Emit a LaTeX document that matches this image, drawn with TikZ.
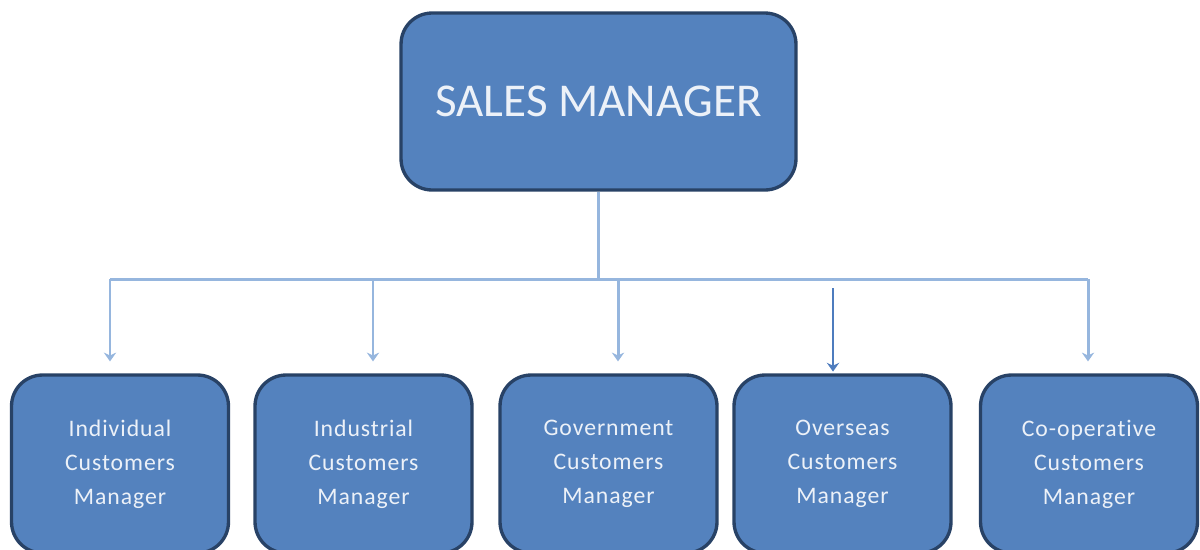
\documentclass[tikz,border=0pt]{standalone}
\usepackage{fontspec}
\setmainfont{Carlito}
\newfontfamily\spacedfont[LetterSpace=4,Ligatures={NoCommon}]{Carlito}
\usetikzlibrary{arrows.meta}
\definecolor{boxfill}{RGB}{84,130,190}
\definecolor{boxline}{RGB}{40,66,102}
\definecolor{busline}{RGB}{150,182,222}
\definecolor{darkarrow}{RGB}{78,124,190}
\definecolor{boxtext}{RGB}{236,241,248}
\begin{document}
\begin{tikzpicture}[x=0.02cm,y=-0.02cm,
    head_node/.style={draw=boxline,fill=boxfill,line width=1.9pt,rounded corners=0.62cm,minimum width=7.9cm,minimum height=3.54cm,text=boxtext,font=\fontsize{26.8}{30}\selectfont},
    unit_node/.style={draw=boxline,fill=boxfill,line width=1.9pt,rounded corners=0.62cm,minimum width=4.34cm,minimum height=3.56cm,text=boxtext,align=center,font={\spacedfont\fontsize{13.5}{19.3}\selectfont}},
    bus/.style={draw=busline,line width=1.7pt},
    down_arrow/.style={bus,-{Stealth[length=5pt,width=7pt]},shorten >=12*0.567pt}]
    \useasboundingbox (0,0) rectangle (1200,549);
    \clip (0,0) rectangle (1200,549);
    \node[head_node] (sm) at (598.5,101.5) {SALES MANAGER};
    \node[unit_node] (ind) at (120,464) {Individual\\Customers\\Manager};
    \node[unit_node] (indu) at (363.5,464) {Industrial\\Customers\\Manager};
    \node[unit_node] (gov) at (608.5,464) {Government\\Customers\\Manager};
    \node[unit_node] (ovs) at (842.5,464) {Overseas\\Customers\\Manager};
    \node[unit_node] (coop) at (1089,464) {Co-operative\\Customers\\Manager};
    \coordinate (b1) at (110,279);
    \coordinate (b2) at (373,279);
    \coordinate (b3) at (618,279);
    \coordinate (b4) at (833,288);
    \coordinate (b5) at (1088,279);
    \draw[bus] (sm.south) -- (sm.south |- b1);
    \draw[bus] (b1) -- (b5);
    \draw[down_arrow] (b1) -- (b1 |- ind.north);
    \draw[down_arrow] (b2) -- (b2 |- indu.north);
    \draw[down_arrow] (b3) -- (b3 |- gov.north);
    \draw[down_arrow] (b5) -- (b5 |- coop.north);
    \draw[darkarrow,line width=1.1pt,-{Stealth[length=5pt,width=7pt]},shorten >=1pt] (b4) -- (b4 |- ovs.north);
\end{tikzpicture}
\end{document}
